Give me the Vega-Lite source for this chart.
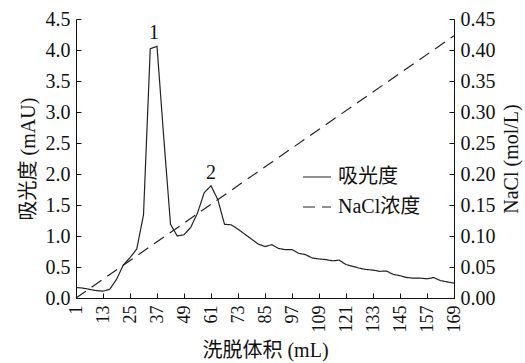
{
  "$schema": "https://vega.github.io/schema/vega-lite/v6.json",
  "autosize": "none",
  "width": 378,
  "height": 279,
  "padding": {"left": 76, "top": 19, "right": 71, "bottom": 65},
  "background": "white",
  "config": {
    "font": "Liberation Serif, Noto Sans CJK SC",
    "view": {"stroke": null},
    "axis": {
      "grid": false,
      "domainColor": "#111",
      "tickColor": "#111",
      "labelColor": "#111",
      "titleColor": "#111",
      "labelFontSize": 20,
      "titleFontSize": 20,
      "titleFontWeight": "normal",
      "tickSize": -5,
      "labelPadding": 11,
      "labelOverlap": false,
      "labelFont": "Liberation Serif",
      "titleFont": "Liberation Serif, Noto Sans CJK SC"
    },
    "legend": {
      "labelFont": "Liberation Serif, Noto Sans CJK SC",
      "labelFontSize": 20,
      "labelColor": "#111"
    }
  },
  "datasets": {
    "abs": [
      {"v": 1, "a": 0.17}, {"v": 4, "a": 0.16}, {"v": 7, "a": 0.14}, {"v": 10, "a": 0.12},
      {"v": 13, "a": 0.11}, {"v": 16, "a": 0.14}, {"v": 19, "a": 0.30}, {"v": 22, "a": 0.53},
      {"v": 25, "a": 0.65}, {"v": 28, "a": 0.79}, {"v": 31, "a": 1.34}, {"v": 34, "a": 4.02},
      {"v": 37, "a": 4.06}, {"v": 40, "a": 2.59}, {"v": 43, "a": 1.19}, {"v": 46, "a": 1.00},
      {"v": 49, "a": 1.02}, {"v": 52, "a": 1.14}, {"v": 55, "a": 1.37}, {"v": 58, "a": 1.70},
      {"v": 61, "a": 1.81}, {"v": 64, "a": 1.59}, {"v": 67, "a": 1.19}, {"v": 70, "a": 1.18},
      {"v": 73, "a": 1.11}, {"v": 76, "a": 1.03}, {"v": 79, "a": 0.95}, {"v": 82, "a": 0.87},
      {"v": 85, "a": 0.83}, {"v": 88, "a": 0.86}, {"v": 91, "a": 0.80}, {"v": 94, "a": 0.78},
      {"v": 97, "a": 0.78}, {"v": 100, "a": 0.72}, {"v": 103, "a": 0.70}, {"v": 106, "a": 0.645},
      {"v": 109, "a": 0.63}, {"v": 112, "a": 0.62}, {"v": 115, "a": 0.60}, {"v": 118, "a": 0.61},
      {"v": 121, "a": 0.54}, {"v": 124, "a": 0.51}, {"v": 127, "a": 0.48}, {"v": 130, "a": 0.46},
      {"v": 133, "a": 0.45}, {"v": 136, "a": 0.43}, {"v": 139, "a": 0.435}, {"v": 142, "a": 0.38},
      {"v": 145, "a": 0.36}, {"v": 148, "a": 0.33}, {"v": 151, "a": 0.32}, {"v": 154, "a": 0.32},
      {"v": 157, "a": 0.31}, {"v": 160, "a": 0.33}, {"v": 163, "a": 0.28}, {"v": 166, "a": 0.26},
      {"v": 169, "a": 0.24}
    ],
    "nacl": [
      {"v": 1, "c": 0.0},
      {"v": 169, "c": 0.423}
    ],
    "peaks": [
      {"v": 35.7, "a": 4.27, "label": "1"},
      {"v": 61, "a": 2.02, "label": "2"}
    ]
  },
  "layer": [
    {
      "layer": [
        {
          "data": {"name": "abs"},
          "mark": {"type": "line", "color": "#222", "strokeWidth": 1.2},
          "encoding": {
            "x": {
              "field": "v", "type": "quantitative",
              "scale": {"domain": [1, 169], "nice": false, "zero": false},
              "axis": {
                "orient": "bottom",
                "values": [1, 13, 25, 37, 49, 61, 73, 85, 97, 109, 121, 133, 145, 157, 169],
                "tickCount": 30,
                "labelAngle": -90,
                "labelFontSize": 18,
                "labelPadding": 12,
                "labelOverlap": false,
                "labelFlush": false,
                "title": "洗脱体积 (mL)",
                "titlePadding": 8
              }
            },
            "y": {
              "field": "a", "type": "quantitative",
              "scale": {"domain": [0, 4.5], "nice": false},
              "axis": {
                "orient": "left",
                "values": [0, 0.5, 1, 1.5, 2, 2.5, 3, 3.5, 4, 4.5],
                "tickCount": 20,
                "format": ".1f",
                "labelOverlap": false,
                "labelFlush": false,
                "title": "吸光度 (mAU)",
                "titlePadding": 7
              }
            },
            "strokeDash": {
              "datum": "吸光度",
              "type": "nominal",
              "scale": {"domain": ["吸光度", "NaCl浓度"], "range": [[1, 0], [12, 7]]},
              "legend": {
                "title": null,
                "orient": "none",
                "legendX": 226,
                "legendY": 143,
                "padding": 0,
                "symbolType": "stroke",
                "symbolSize": 784,
                "symbolStrokeWidth": 1.2,
                "symbolStrokeColor": "#222",
                "labelOffset": 6,
                "rowPadding": 5
              }
            }
          }
        },
        {
          "data": {"name": "peaks"},
          "mark": {"type": "text", "fontSize": 20, "color": "#111", "baseline": "middle", "font": "Liberation Serif"},
          "encoding": {
            "x": {"field": "v", "type": "quantitative"},
            "y": {"field": "a", "type": "quantitative"},
            "text": {"field": "label"}
          }
        }
      ]
    },
    {
      "data": {"name": "nacl"},
      "mark": {"type": "line", "color": "#222", "strokeWidth": 1.2},
      "encoding": {
        "x": {"field": "v", "type": "quantitative"},
        "y": {
          "field": "c", "type": "quantitative",
          "scale": {"domain": [0, 0.45], "nice": false},
          "axis": {
            "orient": "right",
            "values": [0, 0.05, 0.1, 0.15, 0.2, 0.25, 0.3, 0.35, 0.4, 0.45],
            "tickCount": 20,
            "format": ".2f",
            "labelOverlap": false,
            "labelFlush": false,
            "title": "NaCl (mol/L)",
            "titleAngle": 270,
            "titleBaseline": "top",
            "titlePadding": 6
          }
        },
        "strokeDash": {"datum": "NaCl浓度", "type": "nominal"}
      }
    }
  ],
  "resolve": {"scale": {"y": "independent"}}
}
